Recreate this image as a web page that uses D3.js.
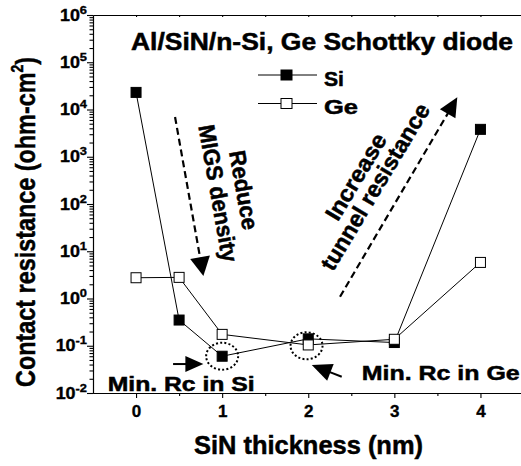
<!DOCTYPE html>
<html>
<head>
<meta charset="utf-8">
<script src="https://cdn.jsdelivr.net/npm/d3@7"></script>
<style>
  body { margin: 0; background: #fff; }
  text { font-family: "Liberation Sans", Arial, sans-serif; font-weight: bold; fill: #000; stroke: #000; stroke-width: 0.5px; }
  text.small { stroke-width: 0.35px; }
</style>
</head>
<body>
<script>
// data
const thickness = [0, 0.5, 1, 2, 3, 4]
const siRc = [2.3e4, 0.35, 0.06, 0.14, 0.117, 3.8e3]
const geRc = [2.75, 2.8, 0.174, 0.104, 0.137, 5.8]
const xTicks = [0, 1, 2, 3, 4]
const xMinorTicks = [0.5, 1.5, 2.5, 3.5]
const yExponents = [-2, -1, 0, 1, 2, 3, 4, 5, 6]

// annotation anchors, in data units [nm, ohm-cm2]
const reduceArrow = [[0.453, 6930], [0.782, 2.99]]
const increaseArrow = [[2.369, 1.09], [3.731, 18100]]
const siMinArrow = [[0.43, 0.041], [0.782, 0.041]]
const geMinArrow = [[2.389, 0.0221], [2.041, 0.039]]
const geMinCircle = [1.98, 0.1]

const width = 521, height = 466

const svg = d3.select('body').append('svg')
  .attr('width', width)
  .attr('height', height)

const x = d3.scaleLinear().domain([-0.5, 4.5]).range([93, 523.5])
const y = d3.scaleLog().domain([1e-2, 1e6]).range([393, 15])

// log minor ticks 2..9 in each decade
const yMinor = []
yExponents.slice(0, -1).forEach(e => {
  for (let k = 2; k < 10; k++) yMinor.push(k * Math.pow(10, e))
})

// y axis
svg.append('g').attr('transform', 'translate(93,0)')
  .call(d3.axisLeft(y).tickValues(yMinor).tickSize(3.5).tickSizeOuter(0).tickFormat(''))
svg.append('g').attr('transform', 'translate(93,0)')
  .call(d3.axisLeft(y).tickValues(yExponents.map(e => Math.pow(10, e))).tickSize(6).tickSizeOuter(0).tickFormat(''))

yExponents.forEach(e => {
  const t = svg.append('text')
    .attr('class', 'small')
    .attr('transform', 'translate(87,' + (y(Math.pow(10, e)) + 5.7) + ') scale(1.12,1)')
    .attr('text-anchor', 'end')
    .style('font-size', '16px')
  t.append('tspan').text('10')
  t.append('tspan').attr('dy', -7).style('font-size', '11.5px').text(e)
})

// x axis (bottom + top)
const xAxis = svg.append('g').attr('transform', 'translate(0,393)')
  .call(d3.axisBottom(x).tickValues(xTicks).tickSize(5).tickPadding(7).tickSizeOuter(0).tickFormat(d3.format('d')))
xAxis.selectAll('text').attr('class', 'small').style('font-size', '17px')
svg.append('g').attr('transform', 'translate(0,393)')
  .call(d3.axisBottom(x).tickValues(xMinorTicks).tickSize(3).tickSizeOuter(0).tickFormat(''))
svg.append('g').attr('transform', 'translate(0,15)')
  .call(d3.axisTop(x).tickValues(xTicks.concat(xMinorTicks)).tickSize(-2).tickSizeOuter(0).tickFormat(''))

svg.selectAll('.domain, .tick line').attr('stroke', '#000').attr('stroke-width', 1.1)

// axis titles
svg.append('text')
  .attr('x', 194).attr('y', 454)
  .attr('textLength', 229).attr('lengthAdjust', 'spacingAndGlyphs')
  .style('font-size', '26px')
  .text('SiN thickness (nm)')

const yTitle = svg.append('text')
  .attr('transform', 'translate(35,387) rotate(-90)')
  .attr('textLength', 330).attr('lengthAdjust', 'spacingAndGlyphs')
  .style('font-size', '27px')
yTitle.append('tspan').text('Contact resistance (ohm-cm')
yTitle.append('tspan').attr('dy', -12).style('font-size', '16px').text('2')
yTitle.append('tspan').attr('dy', 12).text(')')

// title
svg.append('text')
  .attr('x', 131).attr('y', 50)
  .attr('textLength', 382).attr('lengthAdjust', 'spacingAndGlyphs')
  .style('font-size', '23px')
  .text('Al/SiN/n-Si, Ge Schottky diode')

// series
const line = d3.line()
  .x((d, i) => x(thickness[i]))
  .y(d => y(d))

function drawSeries(values, fill) {
  svg.append('path')
    .datum(values)
    .attr('d', line)
    .attr('fill', 'none')
    .attr('stroke', '#000')
    .attr('stroke-width', 1)
  svg.append('g').selectAll('rect')
    .data(values).enter()
    .append('rect')
      .attr('x', (d, i) => x(thickness[i]) - 5)
      .attr('y', d => y(d) - 5)
      .attr('width', 10)
      .attr('height', 10)
      .attr('fill', fill)
      .attr('stroke', '#000')
      .attr('stroke-width', 1)
}
drawSeries(siRc, '#000')
drawSeries(geRc, '#fff')

// legend
const legend = [['Si', '#000', 75], ['Ge', '#fff', 103.5]]
legend.forEach(([name, fill, ly]) => {
  svg.append('line').attr('x1', 258).attr('x2', 317).attr('y1', ly).attr('y2', ly)
    .attr('stroke', '#000').attr('stroke-width', 1)
  svg.append('rect').attr('x', 281).attr('y', ly - 5).attr('width', 11).attr('height', 10)
    .attr('fill', fill).attr('stroke', '#000')
  svg.append('text').attr('x', 324).attr('y', ly + 10.5)
    .attr('textLength', name === 'Si' ? 20 : 34).attr('lengthAdjust', 'spacingAndGlyphs')
    .style('font-size', '20px').text(name)
})

// arrows
function arrow(pts, headLen, headHalf, dash, sw) {
  const x0 = x(pts[0][0]), y0 = y(pts[0][1])
  const x1 = x(pts[1][0]), y1 = y(pts[1][1])
  const dx = x1 - x0, dy = y1 - y0
  const L = Math.hypot(dx, dy)
  const ux = dx / L, uy = dy / L
  const bx = x1 - ux * headLen, by = y1 - uy * headLen
  svg.append('line')
    .attr('x1', x0).attr('y1', y0).attr('x2', bx + ux * 2).attr('y2', by + uy * 2)
    .attr('stroke', '#000').attr('stroke-width', sw)
    .attr('stroke-dasharray', dash)
  svg.append('path')
    .attr('d', 'M' + x1 + ',' + y1 +
      'L' + (bx - uy * headHalf) + ',' + (by + ux * headHalf) +
      'L' + (bx + uy * headHalf) + ',' + (by - ux * headHalf) + 'Z')
    .attr('fill', '#000')
}
arrow(reduceArrow, 19, 10, '7,4', 2.2)
arrow(increaseArrow, 19, 9, '7,4', 2.2)
arrow(siMinArrow, 18, 8, null, 2)
arrow(geMinArrow, 20, 9, null, 2)

// dotted circles round the minima
function dottedEllipse(cx, cy) {
  svg.append('ellipse')
    .attr('cx', cx).attr('cy', cy).attr('rx', 16).attr('ry', 13.5)
    .attr('fill', 'none').attr('stroke', '#000')
    .attr('stroke-width', 2).attr('stroke-dasharray', '2,2.2')
}
dottedEllipse(x(thickness[2]), y(siRc[2]))
dottedEllipse(x(geMinCircle[0]), y(geMinCircle[1]))

// annotation texts
function rotText(str, px, py, angle, fs, len) {
  svg.append('text')
    .attr('transform', 'translate(' + px + ',' + py + ') rotate(' + angle + ')')
    .attr('text-anchor', 'middle')
    .attr('textLength', len).attr('lengthAdjust', 'spacingAndGlyphs')
    .style('font-size', fs + 'px')
    .text(str)
}
rotText('Reduce', 236, 191.4, 80, 23, 80)
rotText('MIGS density', 210.4, 194.7, 80, 23, 139)
rotText('Increase', 362.7, 180.8, -59, 23, 97)
rotText('tunnel resistance', 381.9, 190.8, -59, 23, 190)

svg.append('text').attr('x', 107.7).attr('y', 390.7)
  .attr('textLength', 147).attr('lengthAdjust', 'spacingAndGlyphs')
  .style('font-size', '20px').text('Min. Rc in Si')
svg.append('text').attr('x', 361.7).attr('y', 380)
  .attr('textLength', 158).attr('lengthAdjust', 'spacingAndGlyphs')
  .style('font-size', '21px').text('Min. Rc in Ge')
</script>
</body>
</html>
